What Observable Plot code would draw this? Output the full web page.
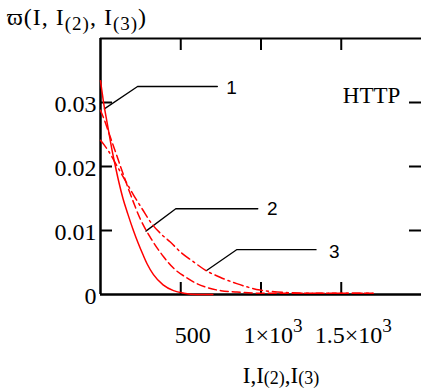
<!DOCTYPE html>
<html><head><meta charset="utf-8">
<script src="https://cdn.jsdelivr.net/npm/d3@7"></script>
<script src="https://cdn.jsdelivr.net/npm/@observablehq/plot@0.6"></script>
<style>html,body{margin:0;padding:0;background:#fff} svg{display:block}</style>
</head><body><div id="chart"></div>
<script>
// ---- data ----
const curve1X = [0, 10, 19, 35, 50, 70, 93, 115, 140, 170, 205, 235, 265, 290, 330, 390, 455, 520, 600, 700];
const curve1Y = [0.0334, 0.0316, 0.0300, 0.0277, 0.0256, 0.0228, 0.0200, 0.0175, 0.0150, 0.0126, 0.0100, 0.0080, 0.0062, 0.0048, 0.0031, 0.0015, 0.0006, 0.0002, 0.0000, 0.0000];
const curve2X = [0, 25, 50, 75, 100, 140, 186, 248, 311, 393, 460, 538, 600, 662, 750, 850, 1000, 1200, 1400, 1700];
const curve2Y = [0.0288, 0.0272, 0.0254, 0.0236, 0.0218, 0.0189, 0.0157, 0.0118, 0.0089, 0.0059, 0.0040, 0.0026, 0.0017, 0.0011, 0.0006, 0.0004, 0.0002, 0.0002, 0.0002, 0.0002];
const curve3X = [0, 25, 50, 100, 150, 207, 259, 321, 380, 435, 500, 580, 660, 745, 849, 994, 1100, 1300, 1500, 1700];
const curve3Y = [0.0241, 0.0233, 0.0224, 0.0202, 0.0180, 0.0155, 0.0134, 0.0110, 0.0094, 0.0082, 0.0066, 0.0051, 0.0037, 0.0027, 0.0017, 0.0007, 0.0004, 0.0002, 0.0002, 0.0002];
const seriesNames = ["1", "2", "3"];

const xTicks = [500, 1000, 1500];
const xTickLabels = ["500", "1×10^3", "1.5×10^3"];
const yTicks = [0, 0.01, 0.02, 0.03];
const yTickLabels = ["0", "0.01", "0.02", "0.03"];
const xDomain = [0, 2000];
const yDomain = [0, 0.04];

// callout leader lines (data coordinates) and their numbers
const calloutX = [[24, 231, 728], [283, 469, 980], [661, 848, 1343]];
const calloutY = [[0.0290, 0.0325, 0.0325], [0.0099, 0.0134, 0.0134], [0.00375, 0.0070, 0.0070]];
const calloutLabelX = [817, 1071, 1456];
const calloutLabelY = [0.0323, 0.0134, 0.0067];
const protocolLabel = "HTTP";
const protocolX = 1689;
const protocolY = 0.0311;

const titleParts = [["ϖ(I, I", 0], ["(2)", 1], [", I", 0], ["(3)", 1], [")", 0]];
const xLabelParts = [["I,I", 0], ["(2)", 1], [",I", 0], ["(3)", 1]];

// ---- build tables ----
const curves = [[curve1X, curve1Y], [curve2X, curve2Y], [curve3X, curve3Y]];
const rows = curves.flatMap(([xs, ys], k) => xs.map((x, i) => ({name: seriesNames[k], x, y: ys[i]})));
const callRows = calloutX.flatMap((xs, k) => xs.map((x, i) => ({name: seriesNames[k], x, y: calloutY[k][i]})));
const callLabels = seriesNames.map((n, k) => ({name: n, x: calloutLabelX[k], y: calloutLabelY[k]}));
const xLab = new Map(xTicks.map((t, i) => [t, xTickLabels[i]]));
const yLab = new Map(yTicks.map((t, i) => [t, yTickLabels[i]]));

const W = 421, H = 392, mL = 100, mR = 0, mT = 38, mB = 98;
const tickPx = 12;
const tickLenY = (yDomain[1] - yDomain[0]) * tickPx / (H - mT - mB);
const tickLenX = (xDomain[1] - xDomain[0]) * tickPx / (W - mL - mR);
const serif = "Liberation Serif";
const sans = "Liberation Sans";
const dashes = {"1": null, "2": "8,4", "3": "10,4,2,4"};

const chart = Plot.plot({
  width: W, height: H,
  marginLeft: mL, marginRight: mR, marginTop: mT, marginBottom: mB,
  x: {domain: xDomain, axis: null},
  y: {domain: yDomain, axis: null},
  style: {fontFamily: serif, fontSize: "24px", background: "white", color: "black", overflow: "visible"},
  marks: [
    // frame lines
    Plot.ruleX([xDomain[0]], {stroke: "black", strokeWidth: 2.5}),
    Plot.ruleY([yDomain[0]], {stroke: "black", strokeWidth: 2.5}),
    Plot.ruleY([yDomain[1]], {stroke: "black", strokeWidth: 2.2}),
    // inward ticks
    Plot.ruleX(xTicks, {x: d => d, y1: yDomain[0], y2: yDomain[0] + tickLenY, stroke: "black", strokeWidth: 2}),
    Plot.ruleX(xTicks, {x: d => d, y1: yDomain[1] - tickLenY, y2: yDomain[1], stroke: "black", strokeWidth: 2}),
    Plot.ruleY(yTicks.filter(d => d > 0), {y: d => d, x1: xDomain[0], x2: xDomain[0] + tickLenX, stroke: "black", strokeWidth: 2}),
    Plot.ruleY(yTicks.filter(d => d > 0), {y: d => d, x1: xDomain[1] - tickLenX, x2: xDomain[1], stroke: "black", strokeWidth: 2}),
    // tick labels
    Plot.text(xTicks, {x: d => d, y: yDomain[0], text: d => xLab.get(d), dx: 12, dy: 41, fontFamily: serif, fontSize: 24, fill: "black"}),
    Plot.text(yTicks, {x: xDomain[0], y: d => d, text: d => yLab.get(d), textAnchor: "end", dx: -4, dy: 2, fontFamily: serif, fontSize: 24, fill: "black"}),
    // callouts
    Plot.line(callRows, {x: "x", y: "y", z: "name", stroke: "black", strokeWidth: 1.3}),
    Plot.text(callLabels, {x: "x", y: "y", text: "name", fontFamily: sans, fontSize: 19, fill: "black"}),
    Plot.text([protocolLabel], {x: protocolX, y: protocolY, text: d => d, fontFamily: serif, fontSize: 23, fill: "black"}),
    // curves
    ...seriesNames.map(n => Plot.line(rows.filter(r => r.name === n), {
      x: "x", y: "y", stroke: "red", strokeWidth: 1.5, strokeDasharray: dashes[n], curve: "monotone-x"
    }))
  ]
});

document.getElementById("chart").appendChild(chart);
const svg = d3.select(chart);

// superscripts in tick labels
svg.selectAll("text").each(function() {
  const t = this.textContent;
  const m = t.match(/^(.*)\^(\d+)$/);
  if (m) {
    const s = d3.select(this);
    s.text(null);
    s.append("tspan").text(m[1]);
    s.append("tspan").attr("dy", "-0.6em").attr("font-size", "0.8em").text(m[2]);
  }
});

function richText(x, y, parts, size, subSize, subShift, anchor, spacing) {
  const t = svg.append("text").attr("x", x).attr("y", y)
    .attr("font-family", serif).attr("font-size", size).attr("fill", "black")
    .attr("text-anchor", anchor).style("letter-spacing", spacing + "px");
  let cur = 0;
  parts.forEach(([txt, sub]) => {
    const target = sub ? subShift : 0;
    t.append("tspan").attr("dy", target - cur).attr("font-size", sub ? subSize : size).text(txt);
    cur = target;
  });
}
richText(7, 25, titleParts, 24, 19, 5, "start", 1);
richText(281, 383, xLabelParts, 23, 18, 1, "middle", 0);
</script>
</body></html>
